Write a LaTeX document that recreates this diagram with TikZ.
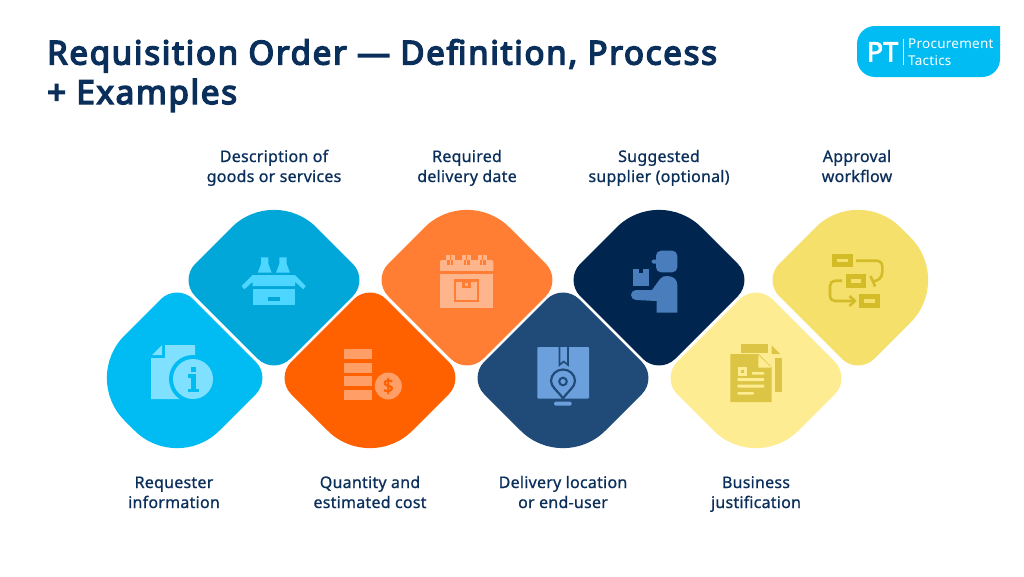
\documentclass[tikz,border=0pt]{standalone}
\usepackage{fontspec}
\setmainfont{Noto Sans}
\newfontfamily\ttlfont{Noto Sans}[FakeBold=4.5,LetterSpace=5.3]
\newfontfamily\lblfont{Noto Sans}[FakeBold=0.8,LetterSpace=1.5]
\newfontfamily\ptfont{Noto Sans}[FakeBold=3]
\newfontfamily\logofont{Noto Sans}[LetterSpace=1.8]
\definecolor{navy}{HTML}{0B2F5B}
\definecolor{cA}{HTML}{00BCF2}\definecolor{cAi}{HTML}{80E0FF}
\definecolor{cB}{HTML}{00A7D8}\definecolor{cBi}{HTML}{4DD6FF}
\definecolor{cC}{HTML}{FF6000}\definecolor{cCi}{HTML}{FF9E66}
\definecolor{cD}{HTML}{FF7E33}\definecolor{cDi}{HTML}{FFB58C}
\definecolor{cE}{HTML}{204A78}\definecolor{cEi}{HTML}{6CA0DC}
\definecolor{cF}{HTML}{00254F}\definecolor{cFi}{HTML}{4A7DBB}
\definecolor{cG}{HTML}{FEEC92}\definecolor{cGi}{HTML}{DCC545}
\definecolor{cH}{HTML}{F4E06B}\definecolor{cHi}{HTML}{D4BB28}
\tikzset{
  lbl/.style={align=center,text=navy,inner sep=0pt,font=\fontsize{16}{20}\selectfont\lblfont},
  ttl/.style={anchor=base west,text=navy,inner sep=0pt,font=\fontsize{33}{40}\selectfont\ttlfont},
}
% #1 cx, #2 cy, #3 colour, #4..#7 radii top,right,bottom,left
\newcommand\rdia[7]{%
  \pgfmathsetmacro\ha{95}%
  \pgfmathsetmacro\at{#4*0.7071}\pgfmathsetmacro\ar{#5*0.7071}\pgfmathsetmacro\ab{#6*0.7071}\pgfmathsetmacro\al{#7*0.7071}%
  \pgfmathsetmacro\k{0.4477}%
  \fill[#3] ({#1-\at},{#2-\ha+\at})
   .. controls ({#1-\k*\at},{#2-\ha+\k*\at}) and ({#1+\k*\at},{#2-\ha+\k*\at}) .. ({#1+\at},{#2-\ha+\at})
   -- ({#1+\ha-\ar},{#2-\ar})
   .. controls ({#1+\ha-\k*\ar},{#2-\k*\ar}) and ({#1+\ha-\k*\ar},{#2+\k*\ar}) .. ({#1+\ha-\ar},{#2+\ar})
   -- ({#1+\ab},{#2+\ha-\ab})
   .. controls ({#1+\k*\ab},{#2+\ha-\k*\ab}) and ({#1-\k*\ab},{#2+\ha-\k*\ab}) .. ({#1-\ab},{#2+\ha-\ab})
   -- ({#1-\ha+\al},{#2+\al})
   .. controls ({#1-\ha+\k*\al},{#2+\k*\al}) and ({#1-\ha+\k*\al},{#2-\k*\al}) .. ({#1-\ha+\al},{#2-\al})
   -- cycle;}
\begin{document}
\begin{tikzpicture}[x=1pt,y=-1pt]
\useasboundingbox (0,0) rectangle (1024,576);
\fill[white] (0,0) rectangle (1024,576);
% title
\node[ttl] (t1) at (47,64.5) {Requisition Order — Definition, Process};
\node[ttl] (t2) at (47,104) {+ Examples};
% logo
\fill[cA] (857,44) arc[start angle=180,end angle=90,x radius=18,y radius=-18] -- (1000,26) -- (1000,59)
  arc[start angle=0,end angle=-90,x radius=18,y radius=-18] -- (875,77)
  arc[start angle=270,end angle=180,x radius=18,y radius=-18] -- cycle;
\node[text=white,inner sep=0pt,anchor=base,font=\fontsize{27}{27}\selectfont\ptfont] (pt) at (882.5,61.5) {PT};
\fill[white] (903,39) rectangle (904,65);
\node[text=white,inner sep=0pt,anchor=base west,font=\fontsize{13.5}{14}\selectfont\logofont] (lg1) at (908,48) {Procurement};
\node[text=white,inner sep=0pt,anchor=base west,font=\fontsize{13.5}{14}\selectfont\logofont] (lg2) at (908,65) {Tactics};
% diamonds
\rdia{274}{280}{cB}{60}{23}{23}{23}
\rdia{467}{280}{cD}{60}{23}{23}{23}
\rdia{659}{280}{cF}{60}{23}{23}{23}
\rdia{858}{280}{cH}{60}{60}{23}{23}
\rdia{177}{378}{cA}{23}{23}{60}{60}
\rdia{370}{378}{cC}{23}{23}{60}{23}
\rdia{563}{378}{cE}{23}{23}{60}{23}
\rdia{756}{378}{cG}{23}{23}{60}{23}
% icon 1: info document
\fill[cAi] (165,345) -- (195,345) -- (195,399) -- (151,399) -- (151,358) -- (165,358) -- cycle;
\fill[cAi] (152,355) -- (162,345) -- (162,355) -- cycle;
\fill[cA] (193,379) circle[radius=24];
\fill[cAi] (193,379) circle[radius=20];
\fill[cA] (191,366.5) rectangle (195.5,371.5);
\fill[cA] (188,374) rectangle (195.5,377.5);
\fill[cA] (191,374) rectangle (195.5,390);
\fill[cA] (188,388.5) rectangle (199,392);
% icon 2: box with bottles
\foreach \bx in {264.7,283}{
  \fill[cBi] (\bx-3.7,257.3) -- (\bx+3.7,257.3) -- (\bx+3.7,264) -- (\bx+7,272.7) -- (\bx-7,272.7) -- (\bx-3.7,264) -- cycle;}
\fill[cBi] (241.7,286) -- (252.7,275) -- (295,275) -- (305.7,286) -- (303.3,289.3) -- (295,281.7) -- (295,286) -- (252.7,286) -- (252.7,281.7) -- (244.3,289.3) -- cycle;
\fill[cBi] (252.7,289.3) rectangle (295,305);
\fill[cB] (268.3,297.3) rectangle (280,301);
% icon 3: stack and coin
\foreach \sy in {349,362.7,376,389.7}{\fill[cCi] (344.3,\sy) rectangle (372,\sy+10);}
\fill[cC] (388.3,386) circle[radius=16];
\fill[cCi] (388.3,386) circle[radius=13.5];
\node[text=cC,inner sep=0pt,font=\fontsize{19}{19}\selectfont\ptfont] (dollar) at (388.3,386) {\$};
% icon 4: calendar
\fill[cDi,rounded corners=2pt] (440,272) -- (440,260) -- (493.3,260) -- (493.3,272) -- cycle;
\fill[cD] (439,271) rectangle (494,274.3);
\fill[cDi] (440,274.3) rectangle (493.3,308.3);
\foreach \rx in {446,462.3,478.3}{
  \fill[cDi] (\rx,255) rectangle (\rx+8.7,260);
  \fill[cD] (\rx+3.6,255) rectangle (\rx+5,260);
  \fill[cD] (\rx+1.3,260) rectangle (\rx+3.7,265);
  \fill[cD] (\rx+5,260) rectangle (\rx+7.4,265);}
\draw[cD,line width=2.3pt] (455.2,280.5) rectangle (478.2,301.2);
\fill[cD] (462.3,279.3) rectangle (470.7,288.3);
\fill[cDi] (465,282.5) rectangle (468,285.5);
% icon 5: parcel and pin
\fill[cEi,rounded corners=1pt] (537.3,347) rectangle (589,398.7);
\draw[cE,line width=1.6pt,fill=cEi] (559.5,347) -- (559.5,365) -- (563.7,361.5) -- (568,365) -- (568,347);
\draw[cE,line width=2.2pt,fill=cEi] (563,398.5) .. controls (558,391) and (551,387) .. (551,381) .. controls (551,374.5) and (556.5,369.5) .. (563,369.5) .. controls (569.5,369.5) and (575,374.5) .. (575,381) .. controls (575,387) and (568,391) .. (563,398.5) -- cycle;
\draw[cE,line width=2pt] (563,381.5) circle[radius=3.8];
\fill[cEi,rounded corners=1.5pt] (554,401.7) rectangle (571.7,405.7);
% icon 6: courier
\fill[cFi,rounded corners=5pt] (656,250.7) rectangle (677.3,272.3);
\fill[cFi,rounded corners=1.5pt] (651.7,259.5) rectangle (660,263.5);
\fill[cFi] (656.7,312.7) -- (656.7,301) -- (636,300) arc[start angle=90,end angle=270,radius=5] -- (652,290) -- (660,279) .. controls (662,276.5) and (664,276) .. (667,276) .. controls (674,276) and (677.3,280) .. (677.3,285) -- (677.3,312.7) -- cycle;
\fill[cFi] (633.3,269) rectangle (649.3,285.7);
\fill[cF] (639.3,269) rectangle (643.3,272.8);
% icon 7: documents
\fill[cGi] (740.7,344) -- (768,344) -- (768,352.5) -- (740.7,352.5) -- cycle;
\fill[cGi] (775,357.5) -- (781.7,357.5) -- (781.7,391.7) -- (775,391.7) -- cycle;
\fill[cGi] (771.7,345.5) -- (780,354) -- (771.7,354) -- cycle;
\fill[cGi,rounded corners=.6pt] (730.3,354) -- (758.5,354) -- (771.7,367) -- (771.7,402) -- (730.3,402) -- cycle;
\fill[cG] (758.3,355) -- (771.3,367.5) -- (758.3,367.5) -- cycle;
\fill[cG] (738,367) rectangle (747.3,376);
\fill[cGi] (741,370) rectangle (744.3,373);
\fill[cG,rounded corners=1pt] (751.7,372) rectangle (764.3,374.7);
\fill[cG,rounded corners=1pt] (737.3,378) rectangle (764.3,381);
\fill[cG,rounded corners=1pt] (737.3,384.5) rectangle (764.3,387.5);
\fill[cG,rounded corners=1pt] (737.3,392) rectangle (754,394.7);
% icon 8: flow
\foreach \fx/\fy in {832/253.7,845.7/274,859.3/294}{
  \fill[cHi] (\fx,\fy) rectangle (\fx+20.6,\fy+13.7);
  \fill[cH] (\fx+5,\fy+5) rectangle (\fx+15.5,\fy+8.6);}
\draw[cHi,line width=2.6pt] (856,260.7) -- (876,260.7) .. controls (880,260.7) and (882.3,263) .. (882.3,267) -- (882.3,272) .. controls (882.3,278) and (878,281) .. (872,281.5);
\draw[cHi,line width=2.6pt] (870.5,276) -- (873,281.5) -- (875,286.5);
\draw[cHi,line width=2.6pt] (842,280.7) -- (835,280.7) .. controls (832,280.7) and (830,283) .. (830,286) -- (830,295) .. controls (830,299) and (832,301) .. (835,301) -- (854.5,301);
\draw[cHi,line width=2.6pt] (849.5,296) -- (854.8,301) -- (849.5,306);
% labels
\node[lbl] (l1) at (174,494) {\strut Requester\\\strut information};
\node[lbl] (l2) at (274,168) {\strut Description of\\\strut goods or services};
\node[lbl] (l3) at (370,494) {\strut Quantity and\\\strut estimated cost};
\node[lbl] (l4) at (467,168) {\strut Required\\\strut delivery date};
\node[lbl] (l5) at (563,494) {\strut Delivery location\\\strut or end-user};
\node[lbl] (l6) at (659,168) {\strut Suggested\\\strut supplier (optional)};
\node[lbl] (l7) at (756,494) {\strut Business\\\strut justification};
\node[lbl] (l8) at (857,168) {\strut Approval\\\strut workflow};
\end{tikzpicture}
\end{document}
